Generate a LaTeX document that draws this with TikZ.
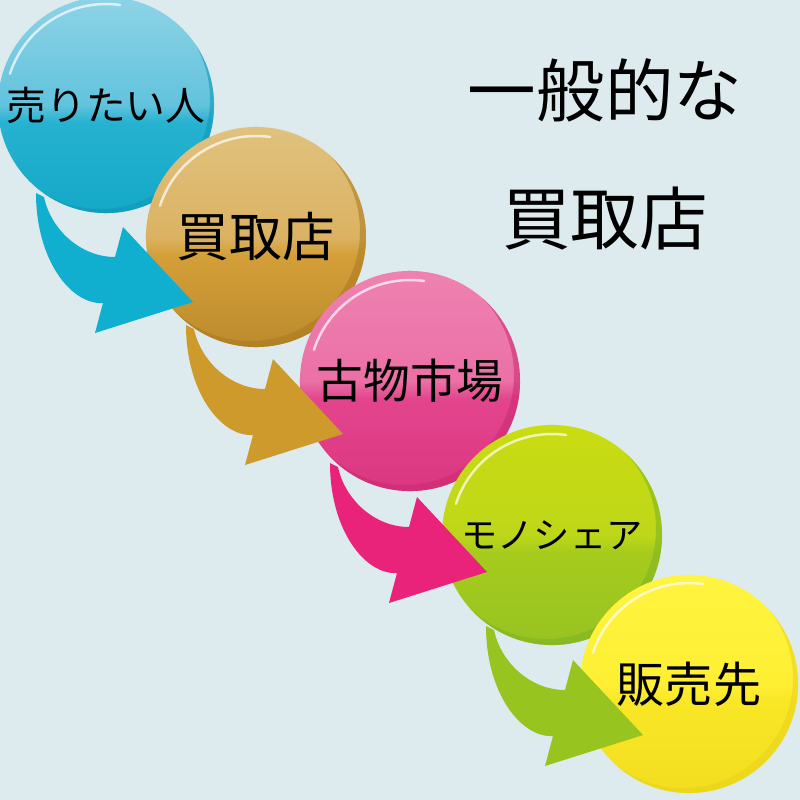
\documentclass[tikz,border=0pt]{standalone}
\usepackage{fontspec}
\newfontfamily\jpfont{Noto Sans CJK JP}
\usetikzlibrary{calc}

\definecolor{bgcol}{HTML}{DDEBEE}
\definecolor{blueTop}{HTML}{8ED3E6}
\definecolor{blueMid}{HTML}{62C3DD}
\definecolor{blueLow}{HTML}{26B2D1}
\definecolor{blueBot}{HTML}{15A8C7}
\definecolor{blueRim}{HTML}{0E97B5}
\definecolor{blueArrow}{HTML}{10AECF}
\definecolor{goldTop}{HTML}{E0C27E}
\definecolor{goldMid}{HTML}{DBB262}
\definecolor{goldLow}{HTML}{D49F38}
\definecolor{goldBot}{HTML}{BC8B2D}
\definecolor{goldRim}{HTML}{A9791F}
\definecolor{goldArrow}{HTML}{CE9A2B}
\definecolor{pinkTop}{HTML}{EE82B1}
\definecolor{pinkMid}{HTML}{EB70A6}
\definecolor{pinkLow}{HTML}{E3458D}
\definecolor{pinkBot}{HTML}{DB3781}
\definecolor{pinkRim}{HTML}{C92A72}
\definecolor{pinkArrow}{HTML}{E9237A}
\definecolor{greenTop}{HTML}{CADC12}
\definecolor{greenMid}{HTML}{BED718}
\definecolor{greenLow}{HTML}{A6CB1D}
\definecolor{greenBot}{HTML}{97C322}
\definecolor{greenRim}{HTML}{7DB224}
\definecolor{greenArrow}{HTML}{98C420}
\definecolor{yellowTop}{HTML}{FFF440}
\definecolor{yellowMid}{HTML}{FEEF33}
\definecolor{yellowLow}{HTML}{F9E726}
\definecolor{yellowBot}{HTML}{F2DE1F}
\definecolor{yellowRim}{HTML}{E8D21A}

\pgfdeclareverticalshading{blueball}{100bp}{color(0bp)=(blueBot); color(25bp)=(blueBot); color(46bp)=(blueLow); color(50bp)=(blueMid); color(75bp)=(blueTop); color(100bp)=(blueTop)}
\pgfdeclareverticalshading{goldball}{100bp}{color(0bp)=(goldBot); color(25bp)=(goldBot); color(46bp)=(goldLow); color(50bp)=(goldMid); color(75bp)=(goldTop); color(100bp)=(goldTop)}
\pgfdeclareverticalshading{pinkball}{100bp}{color(0bp)=(pinkBot); color(25bp)=(pinkBot); color(46bp)=(pinkLow); color(50bp)=(pinkMid); color(75bp)=(pinkTop); color(100bp)=(pinkTop)}
\pgfdeclareverticalshading{greenball}{100bp}{color(0bp)=(greenBot); color(25bp)=(greenBot); color(46bp)=(greenLow); color(50bp)=(greenMid); color(75bp)=(greenTop); color(100bp)=(greenTop)}
\pgfdeclareverticalshading{yellowball}{100bp}{color(0bp)=(yellowBot); color(25bp)=(yellowBot); color(46bp)=(yellowLow); color(50bp)=(yellowMid); color(75bp)=(yellowTop); color(100bp)=(yellowTop)}

\begin{document}
\begin{tikzpicture}[x=0.01cm, y=-0.01cm]
  \tikzset{
    ball/.style={circle, inner sep=0pt, minimum size=2.2cm, text=black,
      shading=#1ball,
      path picture={
        \fill[#1Rim, opacity=.55, even odd rule]
          (path picture bounding box.south west) rectangle (path picture bounding box.north east)
          ([shift={(-6,-6)}]path picture bounding box.center) circle (110);
        \draw[white, opacity=.7, line width=0.025cm, line cap=round]
          ([shift={(198:101)}]path picture bounding box.center) arc[start angle=198, end angle=278, radius=101];
      }},
    flow/.pic={
      \fill[#1] (-70,88) .. controls (-70,155) and (-35,200) .. (-3,198)
        -- (-11,228) -- (87,197) -- (17,122) -- (9,152)
        .. controls (-25,152) and (-55,125) .. (-62,92) -- cycle;
    },
    head/.style={inner sep=0pt, font=\jpfont\fontsize{19.5}{20}\selectfont}
  }
  \useasboundingbox (0,0) rectangle (800,800);
  \clip (0,0) rectangle (800,800);
  \fill[bgcol] (0,0) rectangle (800,800);

  \node[ball=blue, minimum size=2.16cm, font=\jpfont\fontsize{11.3}{12}\selectfont] (seller) at (106,105) {売りたい人};
  \node[ball=gold, font=\jpfont\fontsize{15}{16}\selectfont] (shop) at (256,237) {買取店};
  \pic at (seller) {flow=blueArrow};
  \node[ball=pink, font=\jpfont\fontsize{13.3}{14}\selectfont] (market) at (410,381) {古物市場};
  \pic at (shop) {flow=goldArrow};
  \node[ball=green, font=\jpfont\fontsize{10.3}{11}\selectfont] (share) at (552,535) {モノシェア};
  \pic at ($(market)+(-10,-6)$) {flow=pinkArrow};
  \node[ball=yellow, minimum size=2.18cm, font=\jpfont\fontsize{13.7}{14}\selectfont] (buyer) at (689,684) {販売先};
  \pic at ($(share)+(4,3)$) {flow=greenArrow};

  \node[head] (title1) at (605,90) {一般的な};
  \node[head] (title2) at (605,219) {買取店};
\end{tikzpicture}
\end{document}
